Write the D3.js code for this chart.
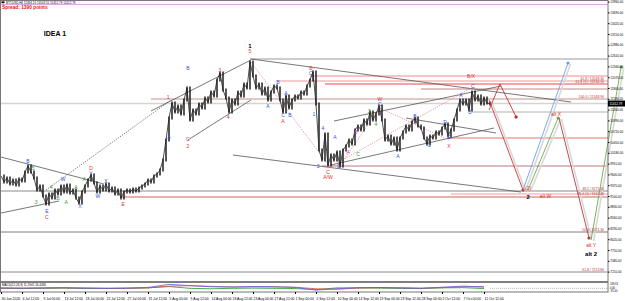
<!DOCTYPE html>
<html>
<head>
<meta charset="utf-8">
<script src="https://cdn.jsdelivr.net/npm/d3@7"></script>
<style>
  body { margin: 0; background: #fff; }
  svg { display: block; font-family: "Liberation Sans", Arial, sans-serif; }
</style>
</head>
<body>
<div id="chart"></div>
<script>
// BTCUSD H4 closes, one value every few bars (30 Jun -> 13 Oct 2020)
const closes = [9600,9450,9550,9400,9500,9375,9525,9475,9700,9850,
  9700,9550,9250,9350,9100,8900,9150,9050,9250,9150,
  9350,9200,9375,9175,9250,9050,8925,9200,9350,9500,
  9625,9425,9200,9350,9250,9400,9225,9300,9150,9250,
  9050,9200,9250,9200,9275,9225,9300,9350,9400,9500,
  9450,9600,9650,9750,10000,10500,11050,11425,11200,11350,
  11150,11500,11800,11000,11250,11150,11400,11300,11550,11450,
  11700,11600,12000,12175,11750,11550,11200,11500,11400,11700,
  11600,11900,11800,12450,12100,11800,11900,11650,11800,11500,
  11700,11850,11800,11500,11200,11600,11300,11500,11600,11550,
  11700,11650,11850,12000,12200,11400,10250,10000,10650,9875,
  10125,10000,10200,9850,10250,10350,10500,10400,10750,10850,
  10750,11000,10900,11200,11000,11150,11350,11000,10500,10600,
  10400,10550,10250,10550,10700,10850,10750,10950,11050,10850,
  10800,10550,10400,10600,10550,10700,10650,10800,10900,10600,
  10750,11000,11250,11500,11400,11500,11250,11700,11500,11600,
  11400,11550,11425,11400];

const priceTicks = [13960,13690,13420,13150,12880,12610,12340,12070,11800,11530,
  11260,10990,10720,10450,10180,9910,9640,9370,9100,8830,8560,8290,8020,7750,7480,7210];

const dateIdx = [0,7,14,21,28,35,42,49,56,63,70,77,84,91,98,105,112,119,126,133,140,147,154,161];
const dateLabels = ["30 Jun 2020","4 Jul 12:00","9 Jul 00:00","13 Jul 12:00","18 Jul 00:00",
  "22 Jul 12:00","27 Jul 00:00","31 Jul 12:00","5 Aug 00:00","9 Aug 12:00","14 Aug 00:00",
  "18 Aug 12:00","23 Aug 00:00","27 Aug 12:00","1 Sep 00:00","5 Sep 12:00","10 Sep 00:00",
  "14 Sep 12:00","19 Sep 00:00","23 Sep 12:00","28 Sep 00:00","2 Oct 12:00","7 Oct 00:00","11 Oct 12:00"];

// horizontal levels: price and the bar they start from
const levelPrices = [13887,12525,12100,11975,11900,11775,11525,11412,11200,10550,9850,9225,9150,9075,8200,7200];
const levelStart  = [0,83,103,92,108,140,50,0,157,149,107,0,150,40,0,0];

// trend lines [bar1, price1, bar2, price2]
const trendLines = [
  [83.3,12525,190,11450],
  [111,10975,166.7,11850],
  [110,9875,164.3,10800],
  [77.3,10125,173.3,9200],
  [0,10075,34.3,9400],
  [0,8675,19.3,8975],
  [50,11225,83.3,12500],
  [62.3,10500,83.3,11500],
  [135,11050,165,10675]
];
const dottedLines = [
  [15,9250,56.7,11500]
];
const redDotted = [
  [83.3,12450,110,9800],
  [109,9800,156.7,11800],
  [126.3,11300,149.3,10500],
  [112.7,9825,126.3,11325]
];

// projected paths [bar, price]
const projRed1 = [[162.7,11500],[174,9250]];
const projBlue = [[174,9250],[189,12425]];
const projGreen1 = [[175.7,9250],[185.7,11050]];
const projRed2 = [[186,11050],[196,8050]];
const projGreen2 = [[196.7,8000],[206.7,12325]];
const projSmall = [[162.7,11250],[166.3,11900],[171.7,11075]];

// wave labels [bar, price, text, degree]
const waveLabels = [
  [9,9950,"B","minute"],[10.7,9775,"5","minuette"],[5.3,9400,"X","minuette"],[11.7,8925,"3","minuette"],
  [15.3,8700,"E","minute"],[15.3,8550,"C","minor"],[16.7,9300,"4","minuette"],[19,9025,"B","minuette"],
  [21.7,8925,"A","minuette"],[20.7,9500,"W","minute"],[26.3,8825,"X","minute"],[25,9300,"A","minuette"],
  [30,9775,"D","minor"],[30,9650,"Y","minute"],[27.7,9500,"A","minuette"],[32.3,9075,"W","minute"],
  [35,9450,"X","minute"],[40.7,8875,"E","minor"],[56,10550,"A","minute"],[55.7,11550,"1","minor"],
  [62.3,12275,"B","minute"],[62.3,10500,"C","minor"],[62.3,10325,"2","minor"],[73,12225,"3","minor"],
  [75.7,11050,"4","minor"],[83,12700,"5","minor"],[89,11325,"A","minute"],[92.3,11925,"B","minute"],
  [94,11100,"C","minute"],[94,10950,"A","minor"],[95,11650,"A","minute"],[96.3,11100,"B","minute"],
  [103.3,12275,"B","minor"],[103.3,12150,"C","minute"],[105,11600,"2","minute"],[104.3,11125,"1","minute"],
  [107.3,10775,"4","minute"],[105.7,9825,"3","minute"],[109,9675,"C","minor"],[109,9550,"A/W","minor"],
  [112.7,9825,"D","minute"],[111.3,10550,"A","minute"],[118.3,10675,"B","sub"],[115.7,10175,"A","sub"],
  [119,10125,"C","minuette"],[122.7,11200,"3","minuette"],[125,10875,"4","minuette"],[126.3,11500,"W","minor"],
  [126.3,11375,"C","minute"],[132.3,10075,"A","minute"],[138,11075,"B","minute"],[142.7,10350,"C","minute"],
  [148,10925,"D","minute"],[149.3,10550,"E","minute"],[149.3,10325,"X","minor"],[153.3,11600,"A","minute"],
  [156.3,11175,"B","minute"],[157.3,11825,"C","minute"],[156.7,12075,"B/X","minor"],
  [185,11125,"alt X","minor"],[175.7,9275,"(2)","minor"],[181.5,9075,"alt W","minor"],
  [196.7,7850,"alt Y","minor"]
];
const bigLabels = [[83,12850,"1"],[175.7,9075,"2"],[196.7,7650,"alt 2"]];

const fibPrices = [12025,11940,11560,9262,9150,8237,7237];
const fibTexts = ["61.8 / 12048.30","61.8 (1) / 11934.10","100.0 / 11548.90","38.2 / 9271.60",
  "76.4 (1) / 9162.40","50.0 / 8221.30","61.8 / 7213.80"];

// MACD panel, one value every 7 bars
const macdIdx = [0,7,14,21,28,35,42,49,56,63,70,77,84,91,98,105,112,119,126,133,140,147,154,161];
const macdMain = [0.1,0.05,0.1,0.15,0.05,0.0,0.05,0.2,0.9,0.6,0.35,0.3,0.4,0.35,0.2,-0.4,-0.1,0.15,0.2,0.1,0.0,0.25,0.5,0.3];
const macdSignal = [0.05,0.05,0.08,0.1,0.08,0.02,0.03,0.1,0.5,0.6,0.45,0.3,0.35,0.35,0.25,-0.1,-0.2,0.05,0.15,0.12,0.05,0.15,0.35,0.35];
const macdHist = [0,-0.05,0,0.05,-0.05,-0.05,0,0.1,0.4,0,-0.1,0,0.05,0,-0.05,-0.3,0.1,0.1,0.05,-0.02,-0.05,0.1,0.15,-0.05];
const macdScale = ["189.03", "0.00", "-95.40"];

const width = 625, height = 301;
const plotR = 608, mainB = 282, indB = 292;

const svg = d3.select('#chart').append('svg')
  .attr('width', width).attr('height', height)
  .attr('viewBox', [0, 0, width, height]);

const x = d3.scaleLinear().domain([0, closes.length - 1]).range([1, 490]);
const y = d3.scaleLinear().domain([6950, 14000]).range([mainB, 0]);
const yi = d3.scaleLinear().domain([-0.6, 1.2]).range([indB - 1, mainB + 1]);

const levelStyle = [
  ['#d8a8e0',1],['#9a9a9a',1],['#f8c4c4',2],['#f09898',1],['#e84848',1],['#b46a6a',0.8],
  ['#c89090',1],['#d4d4d4',1.3],['#b0b0b0',1],['#f07070',1],['#b87878',1],['#8a8a8a',1],
  ['#eba0a0',1],['#e05a5a',1],['#7a7a7a',1],['#8a8a8a',1]
];
const degreeColor = { minute: '#3050e8', minor: '#e0302c', minuette: '#2e9a36', sub: '#d040d0', inter: '#000' };

// horizontal levels
svg.append('g').selectAll('line')
  .data(levelPrices)
  .join('line')
    .attr('x1', (d, i) => x(levelStart[i]))
    .attr('x2', plotR)
    .attr('y1', d => y(d)).attr('y2', d => y(d))
    .attr('stroke', (d, i) => levelStyle[i][0])
    .attr('stroke-width', (d, i) => levelStyle[i][1]);

// trend lines
const seg = (g, data, color, w, dash) => g.append('g').selectAll('line')
  .data(data).join('line')
    .attr('x1', d => x(d[0])).attr('y1', d => y(d[1]))
    .attr('x2', d => x(d[2])).attr('y2', d => y(d[3]))
    .attr('stroke', color).attr('stroke-width', w)
    .attr('stroke-dasharray', dash);

seg(svg, trendLines, '#555', 0.8, null);
seg(svg, dottedLines, '#555', 0.8, '1.2,1.2');
seg(svg, redDotted, '#e08080', 0.8, '1.2,1.2');

// price bars
const bars = svg.append('g');
bars.selectAll('line')
  .data(closes.slice(1))
  .join('line')
    .attr('x1', (d, i) => x(i + 1)).attr('x2', (d, i) => x(i + 1))
    .attr('y1', (d, i) => Math.min(y(d), y(closes[i])) - 1.5)
    .attr('y2', (d, i) => Math.max(y(d), y(closes[i])) + 1.5)
    .attr('stroke', '#111').attr('stroke-width', 1.4);
bars.append('path')
  .attr('d', d3.line().x((d, i) => x(i)).y(d => y(d))(closes))
  .attr('fill', 'none').attr('stroke', '#222').attr('stroke-width', 0.8);

// projections
const proj = d3.line().x(d => x(d[0])).y(d => y(d[1]));
function projLine(data, color, w, shadow) {
  if (shadow) {
    svg.append('path').attr('d', proj(data)).attr('transform', 'translate(2.5,1)')
      .attr('fill', 'none').attr('stroke', '#d8d8d8').attr('stroke-width', 1.6);
  }
  svg.append('path').attr('d', proj(data))
    .attr('fill', 'none').attr('stroke', color).attr('stroke-width', w);
  const e = data[data.length - 1];
  svg.append('circle').attr('cx', x(e[0])).attr('cy', y(e[1])).attr('r', 1.6).attr('fill', color);
}
projLine(projRed1, '#d83030', 0.9, true);
projLine(projBlue, '#6f9ee8', 0.9, true);
projLine(projGreen1, '#6aa84f', 0.9, true);
projLine(projRed2, '#b03a3a', 0.9, true);
projLine(projGreen2, '#6aa84f', 0.9, true);
projLine(projSmall, '#c02020', 0.8, false);

// wave labels
svg.append('g').selectAll('text')
  .data(waveLabels)
  .join('text')
    .attr('x', d => x(d[0])).attr('y', d => y(d[1]))
    .attr('text-anchor', 'middle').attr('dominant-baseline', 'middle')
    .attr('font-size', 5)
    .attr('fill', d => degreeColor[d[3]])
    .text(d => d[2]);
svg.append('g').selectAll('text')
  .data(bigLabels)
  .join('text')
    .attr('x', d => x(d[0])).attr('y', d => y(d[1]))
    .attr('text-anchor', 'middle').attr('dominant-baseline', 'middle')
    .attr('font-size', 6).attr('font-weight', 'bold')
    .attr('fill', degreeColor.inter)
    .text(d => d[2]);

// fib texts
svg.append('g').selectAll('text')
  .data(fibPrices)
  .join('text')
    .attr('x', 604).attr('y', d => y(d))
    .attr('text-anchor', 'end').attr('dominant-baseline', 'middle')
    .attr('font-size', 3.4).attr('fill', '#c03030')
    .text((d, i) => fibTexts[i]);

// title texts
svg.append('text').attr('x', 55).attr('y', 36).attr('font-size', 7).attr('font-weight', 'bold')
  .attr('text-anchor', 'middle').text('IDEA 1');
svg.append('text').attr('x', 6).attr('y', 3.6).attr('font-size', 3)
  .text('BTCUSD,H4  11494.10 11503.51 11412.79 11412.79');
svg.append('rect').attr('x', 1.5).attr('y', 1.4).attr('width', 3).attr('height', 1.8).attr('fill', '#000');
svg.append('text').attr('x', 2).attr('y', 8.5).attr('font-size', 4.8).attr('font-weight', 'bold')
  .attr('fill', '#e02020').text('Spread: 1390 points');

// MACD panel
const ml = d3.line().x((d, i) => x(macdIdx[i])).y(d => yi(d));
svg.append('line').attr('x1', x(closes.length - 1)).attr('x2', plotR)
  .attr('y1', yi(0)).attr('y2', yi(0)).attr('stroke', '#888').attr('stroke-width', 0.6)
  .attr('stroke-dasharray', '1,1');
[[macdHist, '#1a9a1a'], [macdSignal, '#e04848'], [macdMain, '#5a5af0']].forEach(([s, c]) => {
  svg.append('path').attr('d', ml(s)).attr('fill', 'none').attr('stroke', c).attr('stroke-width', 0.8);
});
svg.append('text').attr('x', 2).attr('y', 286).attr('font-size', 3).text('MACD(12,26,9) 11.2941 16.4480');

// frame
svg.append('line').attr('x1', 0).attr('x2', plotR).attr('y1', mainB).attr('y2', mainB)
  .attr('stroke', '#000').attr('stroke-width', 1.2);
svg.append('rect').attr('x', 0.5).attr('y', 0.5).attr('width', plotR - 0.5).attr('height', indB - 0.5)
  .attr('fill', 'none').attr('stroke', '#777').attr('stroke-width', 1);

// axes
function yAxis(g) {
  g.attr('transform', `translate(${plotR},0)`)
    .call(d3.axisRight(y).tickValues(priceTicks).tickSize(1.5).tickPadding(0.8).tickFormat(d3.format('.2f')))
    .attr('font-size', 3.1)
    .call(g => g.select('.domain').remove());
}
function xAxis(g) {
  g.attr('transform', `translate(0,${indB})`)
    .call(d3.axisBottom(x).tickValues(dateIdx).tickSize(2).tickFormat((d, i) => dateLabels[i]))
    .attr('font-size', 3.4)
    .call(g => g.select('.domain').remove())
    .call(g => g.selectAll('text').attr('text-anchor', 'start').attr('dy', '0.9em'));
}
svg.append('g').call(yAxis);
svg.append('g').call(xAxis);

// current price box and MACD scale
svg.append('rect').attr('x', plotR).attr('y', y(11412) - 3).attr('width', 17).attr('height', 6).attr('fill', '#000');
svg.append('text').attr('x', plotR + 1.5).attr('y', y(11412) + 1.1).attr('font-size', 3.1)
  .attr('fill', '#fff').text('11412.79');
svg.append('g').selectAll('text')
  .data(macdScale)
  .join('text')
    .attr('x', plotR + 2).attr('y', (d, i) => mainB + 3 + i * 3.6)
    .attr('font-size', 2.6).text(d => d);
</script>
</body>
</html>
